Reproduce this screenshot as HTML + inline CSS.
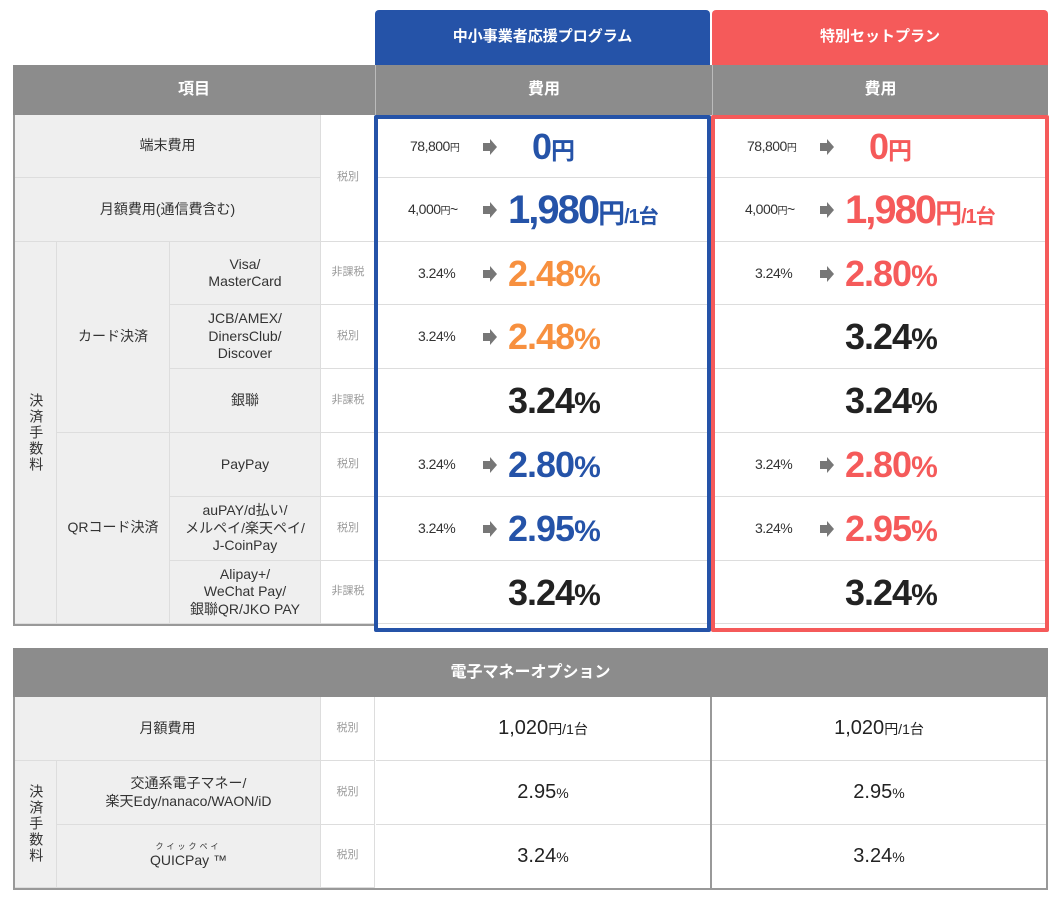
<!DOCTYPE html>
<html><head><meta charset="utf-8">
<style>
*{margin:0;padding:0;box-sizing:border-box}
body{width:1060px;height:902px;background:#fff;position:relative;overflow:hidden;font-family:"Liberation Sans","Noto Sans CJK JP",sans-serif;color:#333}
.a{position:absolute}
.c{position:absolute;display:flex;align-items:center;justify-content:center;text-align:center;line-height:1.25}
.lab{background:#efefef;font-size:14px;color:#333;border-right:1px solid #ddd;border-bottom:1px solid #ddd}
.tax{background:#fff;font-size:11px;color:#999;border-bottom:1px solid #ddd}
.hd{background:#8c8c8c;color:#fff;font-weight:bold;font-size:16px}
.v{position:absolute;border-bottom:1px solid #ddd}
.v > span{position:absolute;white-space:nowrap;font-weight:bold}
.sm{font-size:14px;color:#333;font-weight:normal!important;letter-spacing:-0.5px}
.sm small{font-size:10px}
.arr{position:absolute;width:14px;height:16px}
.big{font-size:36px;letter-spacing:-1px}
.B{color:#2553a8}.R{color:#f55a5a}.O{color:#f7903f}.K{color:#222}
.v2{font-size:20px;color:#222}
.v2 small{font-size:14px}
</style></head><body>
<div class="c" style="left:375px;top:10px;width:335px;height:55px;background:#2553a8;color:#fff;font-weight:bold;font-size:15px;border-radius:4px 4px 0 0">中小事業者応援プログラム</div>
<div class="c" style="left:712px;top:10px;width:336px;height:55px;background:#f55a5a;color:#fff;font-weight:bold;font-size:15px;border-radius:4px 4px 0 0">特別セットプラン</div>

<div class="c hd" style="left:13px;top:65px;width:362px;height:50px">項目</div>
<div class="c hd" style="left:375px;top:65px;width:337px;height:50px;border-left:1px solid #bbb">費用</div>
<div class="c hd" style="left:712px;top:65px;width:336px;height:50px;border-left:1px solid #bbb">費用</div>

<div class="a" style="left:13px;top:115px;width:364px;height:511px;border:2px solid #999;border-top:none;border-right:none"></div>
<div class="c lab" style="left:15px;top:115px;width:306px;height:63px">端末費用</div>
<div class="c lab" style="left:15px;top:178px;width:306px;height:64px">月額費用(通信費含む)</div>
<div class="c tax" style="left:321px;top:115px;width:54px;height:127px">税別</div>
<div class="c lab" style="left:15px;top:242px;width:42px;height:382px;writing-mode:vertical-rl;letter-spacing:2px">決済手数料</div>
<div class="c lab" style="left:57px;top:242px;width:113px;height:191px">カード決済</div>
<div class="c lab" style="left:57px;top:433px;width:113px;height:191px">QRコード決済</div>
<div class="c lab" style="left:170px;top:242px;width:151px;height:63px">Visa/<br>MasterCard</div>
<div class="c lab" style="left:170px;top:305px;width:151px;height:64px">JCB/AMEX/<br>DinersClub/<br>Discover</div>
<div class="c lab" style="left:170px;top:369px;width:151px;height:64px">銀聯</div>
<div class="c lab" style="left:170px;top:433px;width:151px;height:64px">PayPay</div>
<div class="c lab" style="left:170px;top:497px;width:151px;height:64px">auPAY/d払い/<br>メルペイ/楽天ペイ/<br>J-CoinPay</div>
<div class="c lab" style="left:170px;top:561px;width:151px;height:63px">Alipay+/<br>WeChat Pay/<br>銀聯QR/JKO PAY</div>
<div class="c tax" style="left:321px;top:242px;width:54px;height:63px">非課税</div>
<div class="c tax" style="left:321px;top:305px;width:54px;height:64px">税別</div>
<div class="c tax" style="left:321px;top:369px;width:54px;height:64px">非課税</div>
<div class="c tax" style="left:321px;top:433px;width:54px;height:64px">税別</div>
<div class="c tax" style="left:321px;top:497px;width:54px;height:64px">税別</div>
<div class="c tax" style="left:321px;top:561px;width:54px;height:63px">非課税</div>

<div id="vals"></div>

<div class="a" style="left:374px;top:115px;width:337px;height:517px;border:4px solid #2553a8;border-radius:2px"></div>
<div class="a" style="left:711px;top:115px;width:338px;height:517px;border:4px solid #f55a5a;border-radius:2px"></div>

<div class="c hd" style="left:13px;top:648px;width:1035px;height:49px">電子マネーオプション</div>
<div class="a" style="left:13px;top:697px;width:1035px;height:193px;border:2px solid #999;border-top:none"></div>
<div class="c lab" style="left:15px;top:697px;width:306px;height:64px">月額費用</div>
<div class="c lab" style="left:15px;top:761px;width:42px;height:127px;writing-mode:vertical-rl;letter-spacing:2px">決済手数料</div>
<div class="c lab" style="left:57px;top:761px;width:264px;height:64px">交通系電子マネー/<br>楽天Edy/nanaco/WAON/iD</div>
<div class="c lab" style="left:57px;top:825px;width:264px;height:63px;flex-direction:column"><span style="font-size:8px;letter-spacing:3px">クイックペイ</span><span>QUICPay ™</span></div>
<div class="c tax" style="left:321px;top:697px;width:54px;height:64px;border-right:1px solid #ddd">税別</div>
<div class="c tax" style="left:321px;top:761px;width:54px;height:64px;border-right:1px solid #ddd">税別</div>
<div class="c tax" style="left:321px;top:825px;width:54px;height:63px;border-right:1px solid #ddd">税別</div>
<div class="a" style="left:710px;top:697px;width:2px;height:193px;background:#999"></div>
<div class="c v2" style="left:376px;top:697px;width:334px;height:64px;border-bottom:1px solid #ddd"><span>1,020<small>円/1台</small></span></div>
<div class="c v2" style="left:376px;top:761px;width:334px;height:64px;border-bottom:1px solid #ddd"><span>2.95<small>%</small></span></div>
<div class="c v2" style="left:376px;top:825px;width:334px;height:63px"><span>3.24<small>%</small></span></div>
<div class="c v2" style="left:712px;top:697px;width:334px;height:64px;border-bottom:1px solid #ddd"><span>1,020<small>円/1台</small></span></div>
<div class="c v2" style="left:712px;top:761px;width:334px;height:64px;border-bottom:1px solid #ddd"><span>2.95<small>%</small></span></div>
<div class="c v2" style="left:712px;top:825px;width:334px;height:63px"><span>3.24<small>%</small></span></div>

<script>
const rowTops=[115,178,242,305,369,433,497,561,624];
const oldVals=["78,800円","4,000円~","3.24%","3.24%","","3.24%","3.24%",""];
const blueVals=["0円","1,980円/1台","2.48%","2.48%","3.24%","2.80%","2.95%","3.24%"];
const redVals=["0円","1,980円/1台","2.80%","3.24%","3.24%","2.80%","2.95%","3.24%"];
const blueColors=["B","B","O","O","K","B","B","K"];
const redColors=["R","R","R","K","K","R","R","K"];
const redOld=["78,800円","4,000円~","3.24%","","","3.24%","3.24%",""];
const host=document.getElementById('vals');
function fmtBig(s){
  if(s.indexOf('円/1台')>0){const n=s.replace('円/1台','');return '<span style="font-size:40px;letter-spacing:-2px">'+n+'</span><small style="font-size:27px">円</small><small style="font-size:20px">/1台</small>';}
  if(s.endsWith('円')) return s.replace('円','')+'<small style="font-size:24px">円</small>';
  if(s.endsWith('%')) return s.replace('%','')+'<small style="font-size:30px">%</small>';
  return s;
}
function fmtSm(s){return s.replace('円','<small>円</small>');}
function makeCol(x,w,olds,news,cols,tag){
  for(let i=0;i<8;i++){
    const top=rowTops[i],h=rowTops[i+1]-top;
    const d=document.createElement('div');
    d.className='v';
    
    
    d.style.cssText='left:'+x+'px;top:'+top+'px;width:'+w+'px;height:'+h+'px';
    const mid=h/2;
    if(olds[i]){
      const s=document.createElement('span');
      s.className='sm';
      
      
      s.innerHTML=fmtSm(olds[i]);
      const off=olds[i].startsWith('3.24')?43:(olds[i].startsWith('4')?33:35);
      s.style.left=off+'px';s.style.top=(mid-9)+'px';
      d.appendChild(s);
      const a=document.createElementNS('http://www.w3.org/2000/svg','svg');
      
      
      a.setAttribute('class','arr');a.setAttribute('viewBox','0 0 14 16');
      a.style.left='108px';a.style.top=(mid-8)+'px';
      a.innerHTML='<polygon points="0,4 7,4 7,0 14,8 7,16 7,12 0,12" fill="#777"/>';
      d.appendChild(a);
    }
    if(news[i]){
      const b=document.createElement('span');
      b.className='big '+cols[i];
      
      
      b.innerHTML=fmtBig(news[i]);
      const off=news[i]==='0円'?157:133;
      b.style.left=off+'px';b.style.top=(mid-23)+'px';b.style.lineHeight='46px';
      d.appendChild(b);
    }
    host.appendChild(d);
  }
}
makeCol(375,335,oldVals,blueVals,blueColors,'blue');
makeCol(712,336,redOld,redVals,redColors,'red');
</script>
</body></html>
